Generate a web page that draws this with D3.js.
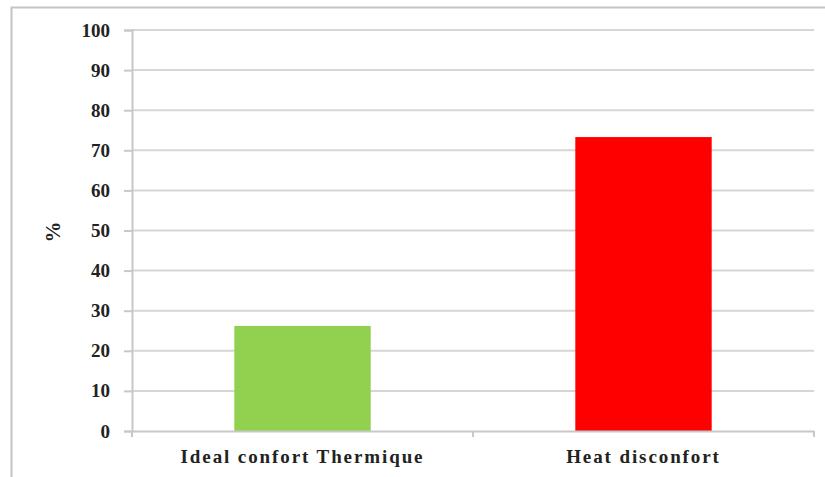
<!DOCTYPE html>
<html>
<head>
<meta charset="utf-8">
<script src="https://cdn.jsdelivr.net/npm/d3@7"></script>
<style>
  body { margin: 0; background: #fff; }
</style>
</head>
<body>
<div id="canvas"></div>
<script>
// data
const categories = ["Ideal confort Thermique", "Heat disconfort"];
const values = [26.2, 73.3];
const colors = ["#92d050", "#ff0000"];
const yTicks = [0, 10, 20, 30, 40, 50, 60, 70, 80, 90, 100];

const font = "'Liberation Serif', 'Times New Roman', Times, serif";

const width = 825;
const height = 477;
const margin = { top: 30, left: 132, bottom: 46, right: 11 };
const iwidth = width - margin.left - margin.right;
const iheight = height - margin.top - margin.bottom;

const svg = d3.select("#canvas").append("svg")
  .attr("width", width)
  .attr("height", height);

// outer frame
svg.append("rect")
  .attr("x", 11.5).attr("y", 7.5)
  .attr("width", 830).attr("height", 500)
  .attr("fill", "none")
  .attr("stroke", "#c4c4c4")
  .attr("stroke-width", 2);

const g = svg.append("g")
  .attr("transform", `translate(${margin.left},${margin.top})`);

const y = d3.scaleLinear().domain([0, 100]).range([iheight, 0]);
const x = d3.scaleBand().domain(categories).range([0, iwidth]).paddingInner(0).paddingOuter(0);

// gridlines
g.append("g")
  .selectAll("line")
  .data(yTicks.filter(d => d > 0))
  .enter()
  .append("line")
  .attr("x1", 0).attr("x2", iwidth)
  .attr("y1", d => y(d)).attr("y2", d => y(d))
  .attr("stroke", "#d6d6d6")
  .attr("stroke-width", 2);

// bars (width ~40% of band)
const bw = x.bandwidth() * 0.4;
g.selectAll(".bar")
  .data(values)
  .enter()
  .append("rect")
  .attr("class", "bar")
  .attr("x", (d, i) => x(categories[i]) + (x.bandwidth() - bw) / 2)
  .attr("y", d => y(d))
  .attr("width", bw)
  .attr("height", d => iheight - y(d))
  .attr("fill", (d, i) => colors[i]);

// y axis
const yAxis = g.append("g")
  .call(d3.axisLeft(y).tickValues(yTicks).tickSize(8).tickPadding(14));
yAxis.attr("font-family", font).attr("font-size", 19).attr("font-weight", "bold");
yAxis.select(".domain").attr("stroke", "#c8c8c8").attr("stroke-width", 2);
yAxis.selectAll(".tick line").attr("stroke", "#c8c8c8").attr("stroke-width", 2);
yAxis.selectAll("text").attr("fill", "#222");

// x axis
const xAxis = g.append("g")
  .attr("transform", `translate(0,${iheight})`)
  .call(d3.axisBottom(x).tickSize(0).tickPadding(19));
xAxis.attr("font-family", font).attr("font-size", 19).attr("font-weight", "bold");
xAxis.select(".domain").attr("stroke", "#c8c8c8").attr("stroke-width", 2);
xAxis.selectAll("text").attr("fill", "#222").style("letter-spacing", "1.9px");

// category separators
const edges = [0, ...categories.map(c => x(c) + x.bandwidth())];
xAxis.selectAll(".sep")
  .data(edges)
  .enter()
  .append("line")
  .attr("class", "sep")
  .attr("x1", d => d).attr("x2", d => d)
  .attr("y1", 0).attr("y2", 6)
  .attr("stroke", "#c8c8c8")
  .attr("stroke-width", 2);

// y label
svg.append("text")
  .attr("transform", "translate(60,232) rotate(-90)")
  .attr("text-anchor", "middle")
  .attr("font-family", font)
  .attr("font-weight", "bold")
  .attr("font-size", 21)
  .attr("fill", "#222")
  .text("%");
</script>
</body>
</html>
